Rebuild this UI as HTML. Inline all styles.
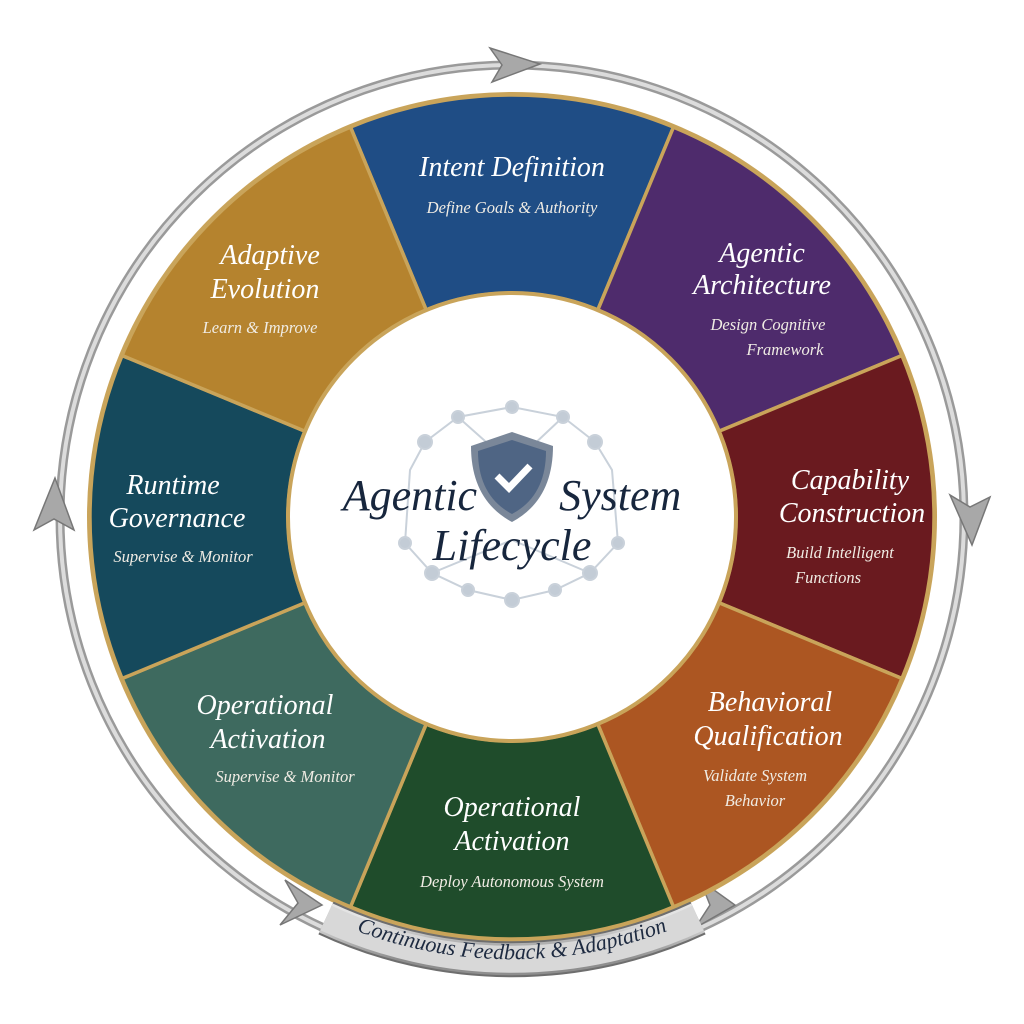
<!DOCTYPE html>
<html><head><meta charset="utf-8"><style>
html,body{margin:0;padding:0;background:#fff;}
svg{display:block;}
.t{font-family:"Liberation Serif",serif;font-style:italic;fill:#fff;text-anchor:middle;}
.h{font-size:28px;}
.s{font-size:16.5px;fill:#f0ece4;}
</style></head><body>
<svg width="1024" height="1024" viewBox="0 0 1024 1024">
<defs>
<path id="seg" d="M350.5,127.1 A422,422 0 0 1 673.5,127.1 L597.7,310 A224,224 0 0 0 426.3,310 Z"/>
<path id="band" d="M326,918 A440,440 0 0 0 698,918"/>
<linearGradient id="sil" x1="0" y1="0" x2="0" y2="1"><stop offset="0" stop-color="#e4e4e4"/><stop offset="1" stop-color="#8e8e8e"/></linearGradient>
</defs>
<rect width="1024" height="1024" fill="#fff"/>
<circle cx="512" cy="517" r="452" fill="none" stroke="#9a9a9a" stroke-width="9"/>
<circle cx="512" cy="517" r="452" fill="none" stroke="#dcdcdc" stroke-width="4"/>
<g fill="#a8a8a8" stroke="#777" stroke-width="1.5">
<polygon points="490,48 540,64 492,82 502,65"/>
<polygon points="950,495 972,545 990,497 970,507"/>
<polygon points="700,880 735,905 695,928 710,905"/>
<polygon points="34,530 55,478 74,530 54,519"/>
<polygon points="285,880 322,905 280,925 298,903"/>
</g>
<circle cx="512" cy="517" r="425" fill="#c9a45a"/>
<g stroke="#c9a45a" stroke-width="3.5">
<use href="#seg" fill="#1f4d85"/>
<use href="#seg" fill="#4e2b6c" transform="rotate(45 512 517)"/>
<use href="#seg" fill="#6a1a1f" transform="rotate(90 512 517)"/>
<use href="#seg" fill="#ac5622" transform="rotate(135 512 517)"/>
<use href="#seg" fill="#1f4c2b" transform="rotate(180 512 517)"/>
<use href="#seg" fill="#3e6a5f" transform="rotate(225 512 517)"/>
<use href="#seg" fill="#15495c" transform="rotate(270 512 517)"/>
<use href="#seg" fill="#b5832e" transform="rotate(315 512 517)"/>
</g>
<circle cx="512" cy="517" r="224" fill="#fff" stroke="#c9a45a" stroke-width="4"/>
<g stroke="#c9d1da" stroke-width="2" fill="#c3ccd6">
<polyline fill="none" points="425,442 458,417 512,407 563,417 595,442 612,470 618,543 590,573 555,590 512,600 468,590 432,573 405,543 410,470 425,442"/>
<line x1="458" y1="417" x2="512" y2="465"/><line x1="563" y1="417" x2="512" y2="465"/>
<line x1="432" y1="573" x2="512" y2="540"/><line x1="590" y1="573" x2="512" y2="540"/>
<circle cx="425" cy="442" r="7"/><circle cx="458" cy="417" r="6"/><circle cx="512" cy="407" r="6"/><circle cx="563" cy="417" r="6"/><circle cx="595" cy="442" r="7"/><circle cx="618" cy="543" r="6"/><circle cx="590" cy="573" r="7"/><circle cx="555" cy="590" r="6"/><circle cx="512" cy="600" r="7"/><circle cx="468" cy="590" r="6"/><circle cx="432" cy="573" r="7"/><circle cx="405" cy="543" r="6"/>
</g>
<path d="M512,432 L553,446 Q553,500 512,522 Q471,500 471,446 Z" fill="#7a8799"/>
<path d="M512,440 L546,451 Q546,496 512,514 Q478,496 478,451 Z" fill="#4f6584"/>
<path d="M497,476 L509,488 L530,466" fill="none" stroke="#fff" stroke-width="7"/>
<text x="512" y="510" font-family="Liberation Serif,serif" font-style="italic" font-size="44" fill="#17263d" text-anchor="middle">Agentic<tspan dx="82">System</tspan></text>
<text x="512" y="560" font-family="Liberation Serif,serif" font-style="italic" font-size="44" fill="#17263d" text-anchor="middle">Lifecycle</text>
<text class="t h" x="512" y="176">Intent Definition</text>
<text class="t s" x="512" y="213">Define Goals &amp; Authority</text>
<text class="t h" x="762" y="262">Agentic</text><text class="t h" x="762" y="294">Architecture</text>
<text class="t s" x="768" y="330">Design Cognitive</text><text class="t s" x="785" y="355">Framework</text>
<text class="t h" x="850" y="489">Capability</text><text class="t h" x="852" y="522">Construction</text>
<text class="t s" x="840" y="558">Build Intelligent</text><text class="t s" x="828" y="583">Functions</text>
<text class="t h" x="770" y="711">Behavioral</text><text class="t h" x="768" y="745">Qualification</text>
<text class="t s" x="755" y="781">Validate System</text><text class="t s" x="755" y="806">Behavior</text>
<text class="t h" x="512" y="816">Operational</text><text class="t h" x="512" y="850">Activation</text>
<text class="t s" x="512" y="887">Deploy Autonomous System</text>
<text class="t h" x="265" y="714">Operational</text><text class="t h" x="268" y="748">Activation</text>
<text class="t s" x="285" y="782">Supervise &amp; Monitor</text>
<text class="t h" x="173" y="494">Runtime</text><text class="t h" x="177" y="527">Governance</text>
<text class="t s" x="183" y="562">Supervise &amp; Monitor</text>
<text class="t h" x="270" y="264">Adaptive</text><text class="t h" x="265" y="298">Evolution</text>
<text class="t s" x="260" y="333">Learn &amp; Improve</text>
<use href="#band" fill="none" stroke="#6e6e6e" stroke-width="36"/>
<use href="#band" fill="none" stroke="url(#sil)" stroke-width="32"/>
<use href="#band" fill="none" stroke="#d8d8d8" stroke-width="27"/>
<text font-family="Liberation Serif,serif" font-style="italic" font-size="22" fill="#1d2a40" text-anchor="middle"><textPath href="#band" startOffset="50%">Continuous Feedback &amp; Adaptation</textPath></text>
</svg>
</body></html>
